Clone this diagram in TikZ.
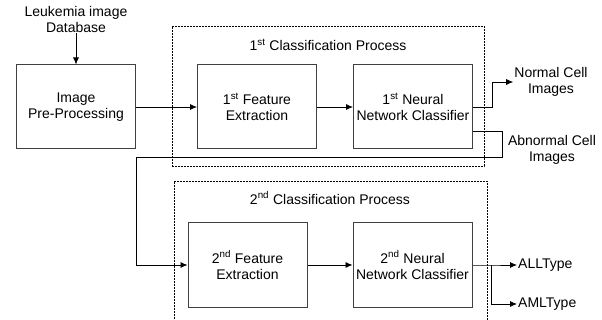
\documentclass[tikz,border=0pt]{standalone}
\usepackage{fontspec}
\setmainfont{Liberation Sans}
\usetikzlibrary{arrows.meta,positioning}

\begin{document}
\begin{tikzpicture}[x=1pt, y=-1pt,
  font=\fontsize{14pt}{16pt}\selectfont,
  procbox/.style={draw=black!75, line width=1pt, align=center, inner sep=0pt,
                  minimum width=119pt, minimum height=84pt},
  stagebox/.style={draw, dash pattern=on 2pt off 1pt, line width=0.6pt, inner sep=0pt},
  tag/.style={align=center, inner sep=1pt},
  arrow/.style={-{Latex[length=7pt,width=6pt]}, line width=0.8pt}
]
\useasboundingbox (0,0) rectangle (602,320);
\node[stagebox, minimum width=312pt, minimum height=140pt] (stage1) at (328,96) {};
\node[stagebox, minimum width=313pt, minimum height=150pt] (stage2) at (330.5,256) {};
\node[tag] (title1) at (328,45) {1\textsuperscript{st} Classification Process};
\node[tag] (title2) at (330,198) {2\textsuperscript{nd} Classification Process};
\node[tag] (db) at (76,19) {Leukemia image\\Database};
\node[procbox] (pre) at (76,107) {Image\\Pre-Processing};
\node[procbox, right=61pt of pre] (fe1) {1\textsuperscript{st} Feature\\Extraction};
\node[procbox, right=36pt of fe1] (nn1) {1\textsuperscript{st} Neural\\Network Classifier};
\node[procbox] (fe2) at (247.5,265) {2\textsuperscript{nd} Feature\\Extraction};
\node[procbox, right=45pt of fe2] (nn2) {2\textsuperscript{nd} Neural\\Network Classifier};
\node[tag] (normal) at (551,82) {Normal Cell\\Images};
\node[tag] (abnormal) at (552,150) {Abnormal Cell\\Images};
\node[tag, anchor=west] (all) at (517,265) {ALLType};
\node[tag, anchor=west] (aml) at (517,304) {AMLType};

\draw[arrow] (db) -- (pre);
\draw[arrow] (pre) -- (fe1);
\draw[arrow] (fe1) -- (nn1);
\draw[arrow] (nn1.east) -- ++(19,0) |- (normal.west);
\draw[arrow] ([yshift=-24pt]nn1.east) -| ++(29,26) -| ([xshift=-51pt]fe2.west) -- (fe2.west);
\draw[arrow] (fe2) -- (nn2);
\draw[arrow] (nn2.east) -- ++(19,0) coordinate (split) -- (all.west);
\draw[arrow] (split) |- (aml.west);
\end{tikzpicture}
\end{document}
